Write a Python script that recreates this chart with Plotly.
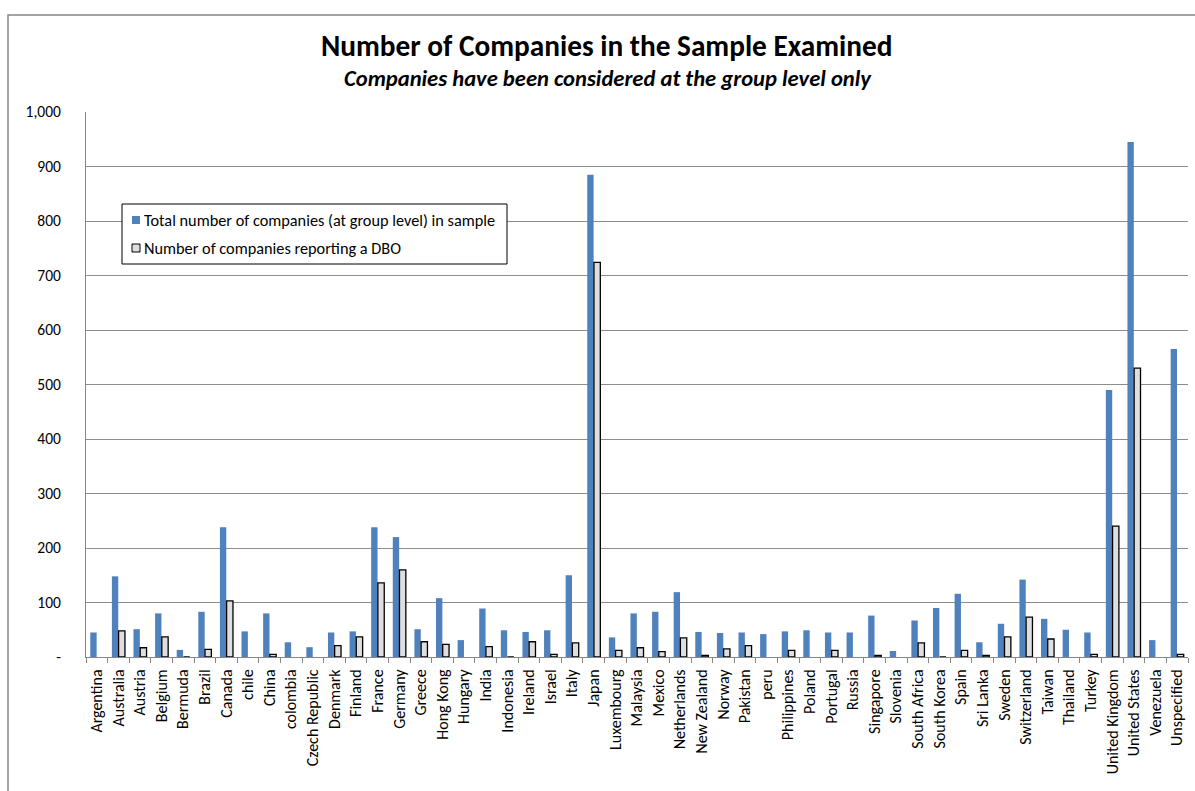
import plotly.graph_objects as go

countries = ["Argentina", "Australia", "Austria", "Belgium", "Bermuda", "Brazil", "Canada", "chile",
             "China", "colombia", "Czech Republic", "Denmark", "Finland", "France", "Germany", "Greece",
             "Hong Kong", "Hungary", "India", "Indonesia", "Ireland", "Israel", "Italy", "Japan",
             "Luxembourg", "Malaysia", "Mexico", "Netherlands", "New Zealand", "Norway", "Pakistan", "peru",
             "Philippines", "Poland", "Portugal", "Russia", "Singapore", "Slovenia", "South Africa",
             "South Korea", "Spain", "Sri Lanka", "Sweden", "Switzerland", "Taiwan", "Thailand", "Turkey",
             "United Kingdom", "United States", "Venezuela", "Unspecified"]

total = [45, 148, 51, 80, 13, 83, 238, 47,
         80, 27, 18, 45, 47, 238, 220, 51,
         108, 31, 89, 49, 46, 49, 150, 885,
         36, 80, 83, 119, 46, 44, 45, 42,
         47, 49, 45, 45, 76, 11, 67,
         90, 116, 27, 61, 142, 70, 50, 45,
         490, 945, 31, 565]

dbo = [None, 48, 17, 37, 0, 14, 103, None,
       5, None, None, 21, 37, 136, 160, 28,
       23, None, 19, 0, 28, 5, 26, 724,
       12, 17, 10, 35, 3, 15, 21, None,
       12, None, 12, None, 3, None, 26,
       0, 12, 3, 37, 73, 33, None, 5,
       240, 530, None, 5]

series_names = ["Total number of companies (at group level) in sample",
                "Number of companies reporting a DBO"]

ytickvals = [0, 100, 200, 300, 400, 500, 600, 700, 800, 900, 1000]
yticktext = ["-", "100", "200", "300", "400", "500", "600", "700", "800", "900", "1,000"]

FONT = "Carlito, Liberation Sans Narrow, Liberation Sans, Arial, sans-serif"
BLUE = "#4F81BD"
GRAY = "#DEDEDE"

fig = go.Figure()
fig.add_trace(go.Bar(
    x=countries, y=total, name=series_names[0],
    marker=dict(color=BLUE, line=dict(width=0)), showlegend=False))
fig.add_trace(go.Bar(
    x=countries, y=dbo, name=series_names[1],
    marker=dict(color=GRAY, line=dict(color="#000000", width=1.3)), showlegend=False))

W, H = 1195, 791
L, R, T, B = 86, 1188, 112, 657
pw, ph = R - L, B - T

def px(x):
    return (x - L) / pw

def py(y):
    return (B - y) / ph

shapes = [
    dict(type="rect", xref="paper", yref="paper", x0=px(8), x1=px(1205), y0=py(800), y1=py(15),
         line=dict(color="#868686", width=1.5), fillcolor="rgba(0,0,0,0)", layer="below"),
    # legend box
    dict(type="rect", xref="paper", yref="paper", x0=px(122), x1=px(507), y0=py(264), y1=py(204),
         line=dict(color="#000000", width=1), fillcolor="white", layer="above"),
    dict(type="rect", xref="paper", yref="paper", x0=px(132), x1=px(140), y0=py(224), y1=py(216),
         line=dict(width=0), fillcolor=BLUE, layer="above"),
    dict(type="rect", xref="paper", yref="paper", x0=px(132), x1=px(140), y0=py(252), y1=py(244),
         line=dict(color="#000000", width=1), fillcolor=GRAY, layer="above"),
]

annotations = [
    dict(text="<b>Number of Companies in the Sample Examined</b>", xref="paper", yref="paper",
         x=px(606), y=py(46), xanchor="center", yanchor="middle", showarrow=False,
         font=dict(family=FONT, size=29.3)),
    dict(text="<b><i>Companies have been considered at the group level only</i></b>", xref="paper",
         yref="paper", x=px(608), y=py(78), xanchor="center", yanchor="middle", showarrow=False,
         font=dict(family=FONT, size=22.6)),
    dict(text=series_names[0], xref="paper", yref="paper", x=px(142), y=py(220),
         xanchor="left", yanchor="middle", showarrow=False, font=dict(family=FONT, size=16.3)),
    dict(text=series_names[1], xref="paper", yref="paper", x=px(142), y=py(248),
         xanchor="left", yanchor="middle", showarrow=False, font=dict(family=FONT, size=16.3)),
]

fig.update_layout(
    width=W, height=H,
    margin=dict(l=L, r=W - R, t=T, b=H - B, pad=0),
    paper_bgcolor="white", plot_bgcolor="white",
    barmode="group", bargap=0.38, bargroupgap=0.05,
    font=dict(family=FONT, size=16, color="#000000"),
    showlegend=False,
    xaxis=dict(type="category", tickangle=-90, showgrid=False,
               showline=True, linecolor="#868686", linewidth=1,
               ticks="outside", tickson="boundaries", ticklen=5, tickcolor="#868686",
               tickfont=dict(family=FONT, size=16), ticklabelstandoff=5),
    yaxis=dict(range=[0, 1000], tickvals=ytickvals, ticktext=yticktext,
               showgrid=True, gridcolor="#8C8C8C", gridwidth=1,
               showline=True, linecolor="#868686", linewidth=1,
               ticks="", tickfont=dict(family=FONT, size=15.5), zeroline=False,
               ticklabelstandoff=21),
    annotations=annotations,
    shapes=shapes,
)

fig.write_html("out.html")
